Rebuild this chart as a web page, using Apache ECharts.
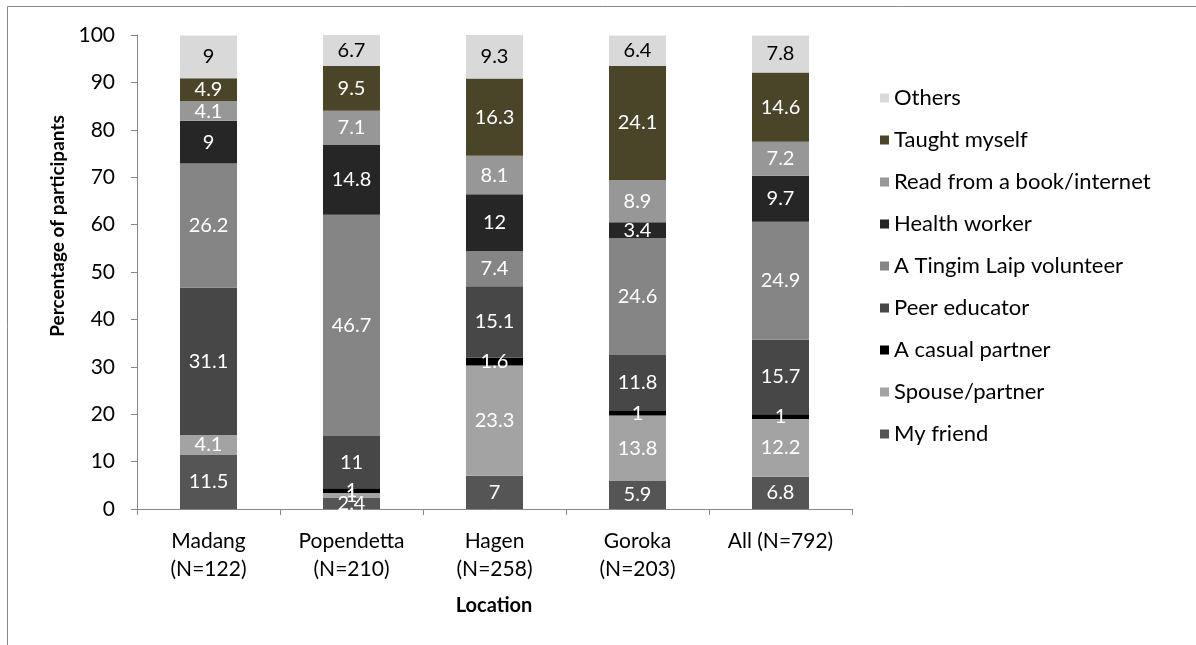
<!DOCTYPE html>
<html>
<head>
<meta charset="utf-8">
<script src="https://cdn.jsdelivr.net/npm/echarts@6/dist/echarts.min.js"></script>
<style>
html,body{margin:0;padding:0;background:#fff;}
#chart{width:1196px;height:645px;}
</style>
</head>
<body>
<div id="chart"></div>
<script>
const categories = ['Madang\n(N=122)', 'Popendetta\n(N=210)', 'Hagen\n(N=258)', 'Goroka\n(N=203)', 'All (N=792)'];
const yTicks = [0, 10, 20, 30, 40, 50, 60, 70, 80, 90, 100];

const myFriend      = [11.5, 2.4, 7, 5.9, 6.8];
const spousePartner = [4.1, 1, 23.3, 13.8, 12.2];
const casualPartner = [0, 1, 1.6, 1, 1];
const peerEducator  = [31.1, 11, 15.1, 11.8, 15.7];
const tingimLaip    = [26.2, 46.7, 7.4, 24.6, 24.9];
const healthWorker  = [9, 14.8, 12, 3.4, 9.7];
const readBook      = [4.1, 7.1, 8.1, 8.9, 7.2];
const taughtMyself  = [4.9, 9.5, 16.3, 24.1, 14.6];
const others        = [9, 6.7, 9.3, 6.4, 7.8];

const seriesDefs = [
  { name: 'My friend', data: myFriend, color: '#555555', label: '#ffffff' },
  { name: 'Spouse/partner', data: spousePartner, color: '#a3a3a3', label: '#ffffff' },
  { name: 'A casual partner', data: casualPartner, color: '#000000', label: '#ffffff' },
  { name: 'Peer educator', data: peerEducator, color: '#474747', label: '#ffffff' },
  { name: 'A Tingim Laip volunteer', data: tingimLaip, color: '#858585', label: '#ffffff' },
  { name: 'Health worker', data: healthWorker, color: '#262626', label: '#ffffff' },
  { name: 'Read from a book/internet', data: readBook, color: '#979797', label: '#ffffff' },
  { name: 'Taught myself', data: taughtMyself, color: '#4a4429', label: '#ffffff' },
  { name: 'Others', data: others, color: '#d9d9d9', label: '#000000' }
];

const FONT = 'Lato, "Open Sans", sans-serif';
const chart = echarts.init(document.getElementById('chart'), null, { renderer: 'canvas' });

const option = {
  animation: false,
  backgroundColor: '#ffffff',
  grid: { left: 137, right: 344, top: 35, bottom: 136, containLabel: false },
  legend: {
    orient: 'vertical',
    left: 880,
    top: 87,
    padding: 0,
    itemWidth: 9,
    itemHeight: 9,
    itemGap: 20,
    icon: 'rect',
    data: seriesDefs.map(s => s.name).reverse(),
    textStyle: { fontFamily: FONT, fontSize: 22, color: '#000', lineHeight: 22 }
  },
  xAxis: {
    type: 'category',
    data: categories,
    axisLine: { lineStyle: { color: '#878787', width: 1 } },
    axisTick: { show: true, length: 6, lineStyle: { color: '#878787' } },
    axisLabel: { color: '#000', fontFamily: FONT, fontSize: 21, lineHeight: 28, margin: 18, interval: 0 }
  },
  yAxis: {
    type: 'value',
    min: yTicks[0],
    max: yTicks[yTicks.length - 1],
    interval: 10,
    splitLine: { show: false },
    axisLine: { show: true, lineStyle: { color: '#878787', width: 1 } },
    axisTick: { show: true, length: 6, lineStyle: { color: '#878787' } },
    axisLabel: { color: '#000', fontFamily: FONT, fontSize: 21, margin: 22 }
  },
  graphic: [
    { type: 'rect', silent: true, z: -10, shape: { x: 7.5, y: 6.5, width: 1300, height: 800 }, style: { fill: 'none', stroke: '#898989', lineWidth: 1 } },
    { type: 'text', x: 58, y: 226, rotation: Math.PI / 2, style: { text: 'Percentage of participants', fontFamily: FONT, fontWeight: 'bold', fontSize: 19, fill: '#000', align: 'center', verticalAlign: 'middle' } },
    { type: 'text', x: 494, y: 606, style: { text: 'Location', fontFamily: FONT, fontWeight: 'bold', fontSize: 20, fill: '#000', align: 'center', verticalAlign: 'middle' } }
  ],
  series: seriesDefs.map(s => ({
    name: s.name,
    type: 'bar',
    stack: 'total',
    barWidth: 57,
    data: s.data,
    itemStyle: { color: s.color },
    label: {
      show: true,
      position: 'inside',
      color: s.label,
      fontFamily: FONT,
      fontSize: 20,
      formatter: p => (p.value ? String(p.value) : '')
    }
  }))
};
chart.setOption(option);
</script>
</body>
</html>
